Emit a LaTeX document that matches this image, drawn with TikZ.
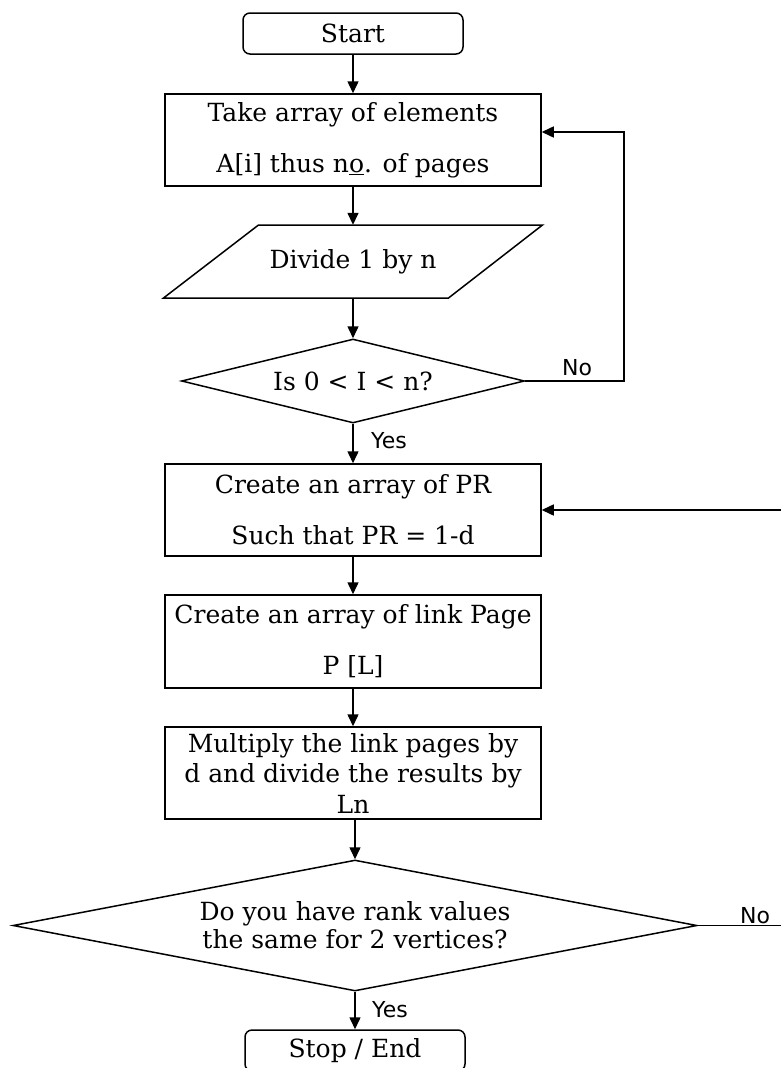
\documentclass[tikz,border=0pt]{standalone}
\usepackage{fontspec}
\setmainfont{DejaVu Serif}
\newfontfamily\labelfont{DejaVu Sans}
\usetikzlibrary{shapes.geometric,arrows.meta,calc}
\begin{document}
\begin{tikzpicture}[x=1pt,y=-1pt,
  every node/.style={font=\fontsize{25}{51}\selectfont},
  proc/.style={draw, line width=1.5pt, rectangle, minimum width=376pt, inner sep=0pt, align=center},
  term/.style={draw, line width=1.5pt, rounded corners=7pt, minimum width=220pt, minimum height=41pt, inner sep=0pt},
  dec/.style={draw, line width=1.5pt, diamond, inner sep=0pt, align=center},
  ioline/.style={draw, line width=1.5pt, line join=miter},
  arr/.style={line width=1.5pt, -{Triangle[length=12pt,width=11pt]}},
  conn/.style={line width=1.5pt},
  lbl/.style={font=\labelfont\fontsize{22}{24}\selectfont, inner sep=0pt, anchor=base},
]
\useasboundingbox (0,0) rectangle (781,1068);
\fill[white] (0,0) rectangle (781,1068);
\clip (0,0) rectangle (781,1068);

\node[term] (start) at (353,33.5) {Start};
\node[proc, minimum height=92pt] (b1) at (353,140) {Take array of elements\\A[i] thus n\underline{o}. of pages};
\node[minimum width=190pt, minimum height=73pt, inner sep=0pt] (div) at (353,261.5) {Divide 1 by n};
\draw[ioline] (div.center) ++(-94.5,-36.5) -- ++(284,0) -- ++(-94,73) -- ++(-285,0) -- cycle;
\node[dec, aspect=4, minimum width=343pt, minimum height=84pt] (d1) at (353,381) {Is 0 < I < n?};
\node[proc, minimum height=92pt] (b2) at (353,510) {Create an array of PR\\Such that PR = 1-d};
\node[proc, minimum height=93pt] (b3) at (353,641.5) {Create an array of link Page\\P [L]};
\node[proc, minimum height=92pt, font=\fontsize{25}{30.5}\selectfont] (b4) at (353,773) {Multiply the link pages by\\d and divide the results by\\Ln};
\node[dec, aspect=5.2, minimum width=684pt, minimum height=131pt, font=\fontsize{25}{28}\selectfont] (d2) at (355,925.5) {Do you have rank values\\the same for 2 vertices?};
\node[term] (stop) at (355,1050.5) {Stop / End};

\coordinate (loop1) at (624,0);
\coordinate (e1) at (781,510);
\coordinate (e2) at (781,925.5);

\draw[arr] (start.south) -- (b1.north);
\draw[arr] (b1.south) -- (div.north);
\draw[arr] (div.south) -- (d1.north);
\draw[arr] (d1.south) -- (b2.north);
\draw[arr] (d1.east) -- (d1.east -| loop1) |- ($(b1.east)+(0,-8)$);
\draw[arr] (e1) -- (b2.east);
\draw[arr] (b2.south) -- (b3.north);
\draw[arr] (b3.south) -- (b4.north);
\draw[arr] (b4.south -| d2.north) -- (d2.north);
\draw[conn] (d2.east) -- (e2);
\draw[arr] (d2.south) -- (stop.north);

\node[lbl] (no1) at (577,375) {No};
\node[lbl] (yes1) at (389,448) {Yes};
\node[lbl] (no2) at (755,923) {No};
\node[lbl] (yes2) at (390,1017) {Yes};
\end{tikzpicture}
\end{document}
